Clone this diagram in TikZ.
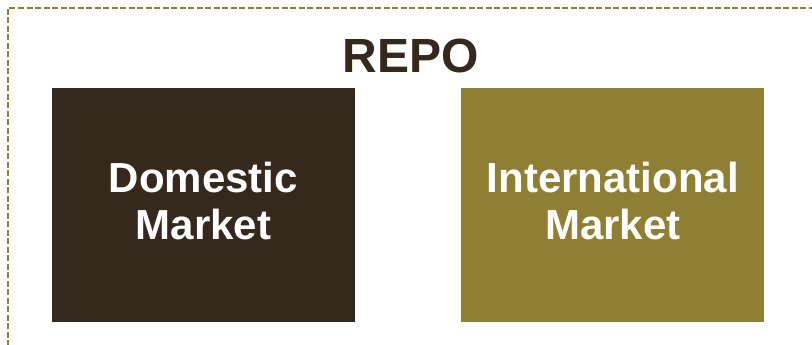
\documentclass[tikz,border=0pt]{standalone}
\usepackage{fontspec}
\setmainfont{Liberation Sans}
\usetikzlibrary{positioning}
\definecolor{repobrown}{HTML}{35281C}
\definecolor{repoolive}{HTML}{8F7F32}
\newcommand{\pxsize}{1pt}

\begin{document}
\begin{tikzpicture}[x=\pxsize,y=\pxsize]
\useasboundingbox (0*\pxsize,0*\pxsize) rectangle (812*\pxsize,345*\pxsize);
\draw[repoolive, line width=2.5*\pxsize, dash pattern=on 6pt off 2.5pt] (8,-10) -- (8,337) -- (820,337);
\tikzstyle{every node}=[inner sep=0pt,
                        align=center,
                        font=\bfseries
                        ]
\tikzstyle{market}=[minimum width  = 303*\pxsize,
                    minimum height = 234*\pxsize,
                    text=white
                    ]
\tikzstyle{label}=[text=white,
                   font=\fontsize{42}{47}\selectfont\bfseries
                   ]
\node[market, fill=repobrown] (domestic) at (203.5,140) {};
\node[market, fill=repoolive, right=106*\pxsize of domestic] (international) {};
\node[label] (domestictext) at ([yshift=4*\pxsize]domestic.center) {Domestic\\Market};
\node[label] (internationaltext) at ([yshift=4*\pxsize]international.center) {International\\Market};
\node[anchor=base, text=repobrown, font=\fontsize{48}{52}\selectfont\bfseries] (repo) at (410.5,272) {REPO};
\end{tikzpicture}
\end{document}
